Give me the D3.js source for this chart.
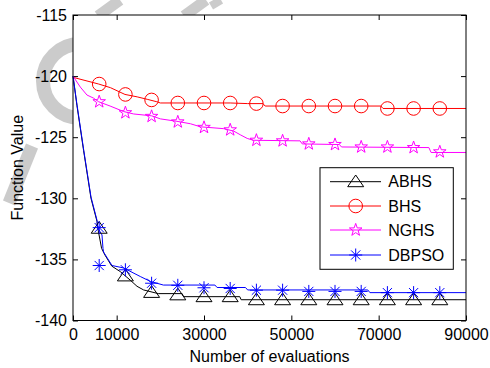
<!DOCTYPE html>
<html>
<head>
<meta charset="utf-8">
<script src="https://cdn.jsdelivr.net/npm/d3@7"></script>
<style>
  html, body { margin: 0; padding: 0; background: #fff; }
  svg { display: block; font-family: 'Liberation Sans', Arial, Helvetica, sans-serif; }
</style>
</head>
<body>
<script>
// Constants

const width = 490;
const height = 368;
const margin = { top: 15, right: 24, bottom: 47.5, left: 73 };

// Data

const xTicks = [0, 10000, 30000, 50000, 70000, 90000];
const yTicks = [-140, -135, -130, -125, -120, -115];

const seriesNames = ['ABHS', 'BHS', 'NGHS', 'DBPSO'];

const markerX = [6000, 12000, 18000, 24000, 30000, 36000, 42000, 48000, 54000, 60000, 66000, 72000, 78000, 84000];

const abhsX = [0, 900, 2430, 4120, 5500, 5650, 6550, 7330, 8880, 10830, 13120, 14660, 16170, 19530, 25000, 25300, 38200, 38500, 90000];
const abhsY = [-120, -122.4, -126.1, -130, -131.9, -132.4, -134.1, -134.65, -135.55, -136.0, -136.7, -137.2, -137.5, -137.8, -137.8, -138.05, -138.05, -138.3, -138.3];
const abhsMarks = [-132.45, -136.35, -137.7, -137.9, -138.05, -138.05, -138.3, -138.3, -138.3, -138.3, -138.3, -138.3, -138.3, -138.3];

const bhsX = [0, 5880, 8600, 11900, 14700, 17000, 19200, 20000, 36000, 40000, 43500, 44000, 70500, 71000, 90000];
const bhsY = [-120.1, -120.65, -120.95, -121.5, -121.7, -121.9, -122.1, -122.2, -122.2, -122.25, -122.25, -122.45, -122.45, -122.65, -122.65];
const bhsMarks = [-120.65, -121.5, -121.95, -122.2, -122.2, -122.2, -122.25, -122.45, -122.45, -122.45, -122.45, -122.65, -122.65, -122.65];

const nghsX = [0, 1680, 3200, 4700, 5880, 8500, 11600, 13900, 18000, 20000, 23800, 26900, 29200, 34500, 36800, 38300, 39900, 41300, 52000, 52500, 61000, 61500, 81500, 82000, 90000];
const nghsY = [-120, -120.9, -121.55, -121.8, -122.1, -122.45, -122.9, -123.1, -123.25, -123.5, -123.7, -123.9, -124.15, -124.3, -124.5, -124.8, -125.1, -125.25, -125.3, -125.55, -125.6, -125.8, -125.85, -126.25, -126.25];
const nghsMarks = [-122.1, -123.0, -123.3, -123.75, -124.2, -124.4, -125.25, -125.3, -125.55, -125.6, -125.8, -125.8, -125.85, -126.2];

const dbpsoX = [0, 900, 2430, 4120, 5500, 5650, 6640, 6870, 7000, 8930, 11590, 15410, 17700, 20700, 32500, 33000, 39500, 40000, 67500, 68000, 90000];
const dbpsoY = [-120, -122.3, -126.0, -129.9, -131.8, -132.4, -133.0, -134.1, -134.4, -135.5, -135.7, -136.4, -136.8, -137.1, -137.1, -137.3, -137.3, -137.5, -137.5, -137.72, -137.72];
const dbpsoMarks = [-132.4, -135.85, -136.95, -137.12, -137.32, -137.38, -137.52, -137.52, -137.62, -137.62, -137.62, -137.72, -137.72, -137.72];
const dbpsoExtraX = [6000];
const dbpsoExtraY = [-135.5];

// Scales

const x = d3.scaleLinear().domain([0, 90000]).range([margin.left, width - margin.right]);
const y = d3.scaleLinear().domain([-140, -115]).range([height - margin.bottom, margin.top]);

// Marker shapes

const triPath = 'M0,-6.7L8,5L-8,5Z';
const starPath = (() => {
	const pts = [];
	for (let i = 0; i < 10; i++) {
		const r = i % 2 === 0 ? 6.6 : 2.6;
		const a = -Math.PI / 2 + (i * Math.PI) / 5;
		pts.push([r * Math.cos(a), r * Math.sin(a)]);
	}
	return 'M' + pts.map((p) => p[0].toFixed(2) + ',' + p[1].toFixed(2)).join('L') + 'Z';
})();
const astPath = 'M0,-6.5L0,6.5M-6.5,0L6.5,0M-4.6,-4.6L4.6,4.6M-4.6,4.6L4.6,-4.6';

const series = [
	{ name: seriesNames[0], color: '#000000', xs: abhsX, ys: abhsY, marks: abhsMarks, shape: 'tri' },
	{ name: seriesNames[1], color: '#ff0000', xs: bhsX, ys: bhsY, marks: bhsMarks, shape: 'circle' },
	{ name: seriesNames[2], color: '#ff00ff', xs: nghsX, ys: nghsY, marks: nghsMarks, shape: 'star' },
	{ name: seriesNames[3], color: '#0000ff', xs: dbpsoX, ys: dbpsoY, marks: dbpsoMarks, shape: 'ast' },
];

const drawMarker = (g, shape, color) => {
	if (shape === 'circle') {
		g.append('circle').attr('r', 6.8).attr('fill', 'none').attr('stroke', color);
	} else {
		const d = shape === 'tri' ? triPath : shape === 'star' ? starPath : astPath;
		g.append('path').attr('d', d).attr('fill', 'none').attr('stroke', color);
	}
};

// Setup svg

const svg = d3
	.select('body')
	.append('svg')
	.attr('width', width)
	.attr('height', height);

// faint watermark behind the axes
const wm = svg.append('g').attr('fill', 'none').attr('stroke', '#cbcbcb').attr('stroke-linecap', 'butt');
wm.append('path').attr('d', 'M80,44 A37,37 0 0,0 80,118').attr('stroke-width', 14);
wm.append('path').attr('d', 'M32,146 L9,203').attr('stroke-width', 13);
wm.append('path').attr('d', 'M98,16 L120,0').attr('stroke-width', 11);
wm.append('path').attr('d', 'M184,16 L206,0').attr('stroke-width', 11);
wm.append('path').attr('d', 'M211,6 L221,0').attr('stroke-width', 8);

svg
	.append('rect')
	.attr('x', x(0))
	.attr('y', y(-115))
	.attr('width', x(90000) - x(0))
	.attr('height', y(-140) - y(-115))
	.attr('fill', '#fff');

// Axes

const tickFmt = (d) => String(d);

const xAxis = (g) =>
	g
		.attr('transform', `translate(0,${y(-140)})`)
		.call(d3.axisBottom(x).tickValues(xTicks).tickFormat(tickFmt).tickSize(-5).tickSizeOuter(0).tickPadding(8))
		.call((g) => g.select('.domain').remove());

const xAxisTop = (g) =>
	g
		.attr('transform', `translate(0,${y(-115)})`)
		.call(d3.axisTop(x).tickValues(xTicks).tickFormat('').tickSize(-5).tickSizeOuter(0))
		.call((g) => g.select('.domain').remove());

const yAxis = (g) =>
	g
		.attr('transform', `translate(${x(0)},0)`)
		.call(d3.axisLeft(y).tickValues(yTicks).tickFormat(tickFmt).tickSize(-5).tickSizeOuter(0).tickPadding(6))
		.call((g) => g.select('.domain').remove());

const yAxisRight = (g) =>
	g
		.attr('transform', `translate(${x(90000)},0)`)
		.call(d3.axisRight(y).tickValues(yTicks).tickFormat('').tickSize(-5).tickSizeOuter(0))
		.call((g) => g.select('.domain').remove());

[xAxis, xAxisTop, yAxis, yAxisRight].forEach((ax) => {
	svg.append('g').call(ax).call((g) => {
		g.selectAll('text').attr('font-size', 16).attr('fill', '#000').attr('font-family', null);
		g.selectAll('line').attr('stroke', '#000');
	});
});

// Lines

const line = d3
	.line()
	.x((d) => x(d[0]))
	.y((d) => y(d[1]));

const plot = svg.append('g');

series.forEach((s) => {
	plot
		.append('path')
		.datum(d3.zip(s.xs, s.ys))
		.attr('fill', 'none')
		.attr('stroke', s.color)
		.attr('stroke-width', 1)
		.attr('d', line);
});

series.forEach((s) => {
	const pts = d3.zip(markerX, s.marks);
	if (s.shape === 'ast') pts.push(...d3.zip(dbpsoExtraX, dbpsoExtraY));
	plot
		.append('g')
		.selectAll('g')
		.data(pts)
		.join('g')
		.attr('transform', (d) => `translate(${x(d[0])},${y(d[1])})`)
		.each(function () {
			drawMarker(d3.select(this), s.shape, s.color);
		});
});

// Box

svg
	.append('rect')
	.attr('x', x(0))
	.attr('y', y(-115))
	.attr('width', x(90000) - x(0))
	.attr('height', y(-140) - y(-115))
	.attr('fill', 'none')
	.attr('stroke', '#000')
	.attr('stroke-width', 1);

// Axis titles

svg
	.append('text')
	.attr('x', (x(0) + x(90000)) / 2)
	.attr('y', 361.5)
	.attr('text-anchor', 'middle')
	.attr('font-size', 16)
	.text('Number of evaluations');

svg
	.append('text')
	.attr('transform', `translate(22.5,${(y(-115) + y(-140)) / 2}) rotate(-90)`)
	.attr('text-anchor', 'middle')
	.attr('font-size', 16)
	.text('Function Value');

// Legend

const legend = svg.append('g').attr('transform', 'translate(320,167.7)');

legend
	.append('rect')
	.attr('width', 133.3)
	.attr('height', 101.6)
	.attr('fill', '#fff')
	.attr('stroke', '#000')
	.attr('stroke-width', 1);

const rowY = [14, 38.3, 62.3, 87.3];

series.forEach((s, i) => {
	const row = legend.append('g').attr('transform', `translate(0,${rowY[i]})`);
	row.append('line').attr('x1', 10).attr('x2', 61).attr('stroke', s.color);
	drawMarker(row.append('g').attr('transform', 'translate(35.7,0)'), s.shape, s.color);
	row
		.append('text')
		.attr('x', 68.3)
		.attr('dy', '0.35em')
		.attr('font-size', 16)
		.text(s.name);
});
</script>
</body>
</html>
